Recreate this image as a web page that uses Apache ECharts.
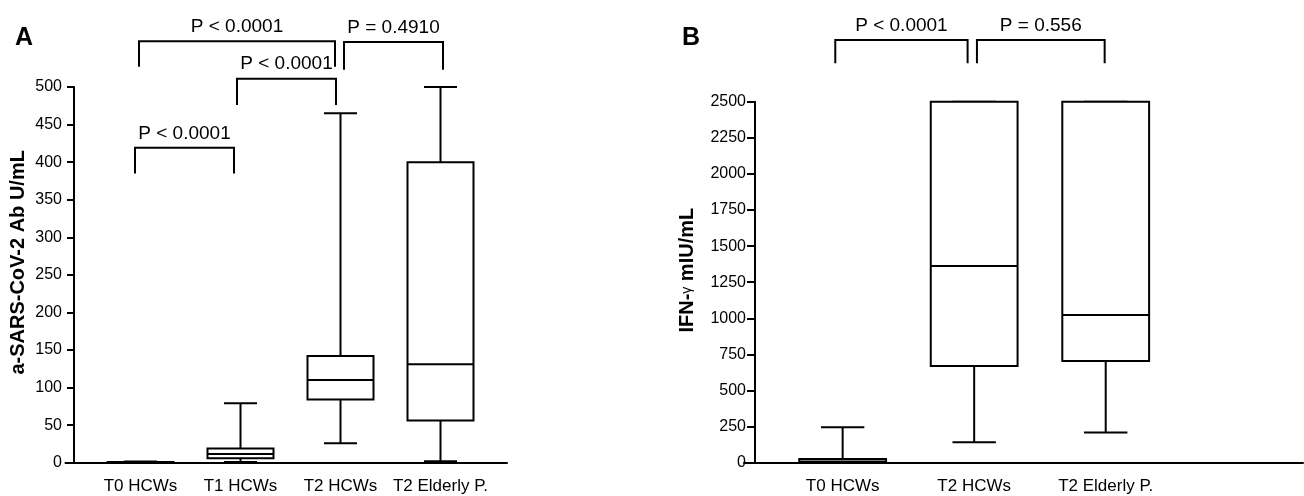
<!DOCTYPE html>
<html>
<head>
<meta charset="utf-8">
<script src="https://cdn.jsdelivr.net/npm/echarts@6/dist/echarts.min.js"></script>
<style>
  html, body { margin: 0; padding: 0; background: #fff; }
  #chart { width: 1304px; height: 496px; }
</style>
</head>
<body>
<div id="chart"></div>
<script>
// panel A: antibody titres
const catsA = ["T0 HCWs", "T1 HCWs", "T2 HCWs", "T2 Elderly P."];
const minA = [0, 1, 26, 2];
const q1A = [0, 6, 84, 56];
const medA = [0.5, 11.5, 110, 131];
const q3A = [1, 19, 142, 400];
const maxA = [1.5, 79, 465, 500];
const yTicksA = { min: 0, max: 500, step: 50 };

// panel B: IFN-gamma
const catsB = ["T0 HCWs", "T2 HCWs", "T2 Elderly P."];
const minB = [0, 141, 210];
const q1B = [0, 670, 704];
const medB = [8, 1362, 1023];
const q3B = [25, 2500, 2500];
const maxB = [245, 2500, 2500];
const yTicksB = { min: 0, max: 2500, step: 250 };

// significance brackets (category position, value level)
const brFromA = [-0.055, 0.965, -0.015, 2.035];
const brToA = [0.935, 1.955, 1.945, 3.025];
const brTopA = [419, 511, 561, 560];
const brLegA = [385, 476, 527, 523];
const brTextA = ["P < 0.0001", "P < 0.0001", "P < 0.0001", "P = 0.4910"];

const brFromB = [-0.056, 1.021];
const brToB = [0.95, 1.992];
const brTopB = [2927, 2927];
const brLegB = [2766, 2766];
const brTextB = ["P < 0.0001", "P = 0.556"];

const FONT = "'Liberation Sans', Arial, sans-serif";

function boxData(mins, q1s, meds, q3s, maxs) {
  return mins.map((m, i) => [i, m, q1s[i], meds[i], q3s[i], maxs[i]]);
}

function bracketData(from, to, top, leg, text) {
  return from.map((f, i) => [f, to[i], top[i], leg[i], text[i]]);
}

const ln = { stroke: "#000", lineWidth: 2 };

function renderBox(params, api) {
  const x = api.value(0);
  const pMin = api.coord([x, api.value(1)]);
  const pQ1 = api.coord([x, api.value(2)]);
  const pMed = api.coord([x, api.value(3)]);
  const pQ3 = api.coord([x, api.value(4)]);
  const pMax = api.coord([x, api.value(5)]);
  const cx = pMin[0];
  const bw = api.size([1, 0])[0] * 0.66;
  const cw = bw / 2;
  return {
    type: "group",
    children: [
      { type: "line", shape: { x1: cx, y1: pMin[1], x2: cx, y2: pQ1[1] }, style: ln },
      { type: "line", shape: { x1: cx, y1: pQ3[1], x2: cx, y2: pMax[1] }, style: ln },
      { type: "line", shape: { x1: cx - cw / 2, y1: pMin[1], x2: cx + cw / 2, y2: pMin[1] }, style: ln },
      { type: "line", shape: { x1: cx - cw / 2, y1: pMax[1], x2: cx + cw / 2, y2: pMax[1] }, style: ln },
      {
        type: "rect",
        shape: { x: cx - bw / 2, y: pQ3[1], width: bw, height: pQ1[1] - pQ3[1] },
        style: { fill: "#fff", stroke: "#000", lineWidth: 2 }
      },
      { type: "line", shape: { x1: cx - bw / 2, y1: pMed[1], x2: cx + bw / 2, y2: pMed[1] }, style: ln }
    ]
  };
}

function renderBracket(params, api) {
  const a = api.coord([api.value(0), api.value(2)]);
  const b = api.coord([api.value(1), api.value(2)]);
  const aLeg = api.coord([api.value(0), api.value(3)]);
  const bLeg = api.coord([api.value(1), api.value(3)]);
  return {
    type: "group",
    children: [
      {
        type: "polyline",
        shape: { points: [[aLeg[0], aLeg[1]], [a[0], a[1]], [b[0], b[1]], [bLeg[0], bLeg[1]]] },
        style: { stroke: "#000", lineWidth: 2, fill: null }
      },
      {
        type: "text",
        x: (a[0] + b[0]) / 2,
        y: a[1] - 5,
        style: {
          text: api.value(4),
          fill: "#000",
          font: "19px " + FONT,
          align: "center",
          verticalAlign: "bottom"
        }
      }
    ]
  };
}

function xAxisOf(gridIndex, cats, min, max) {
  return {
    type: "value",
    gridIndex: gridIndex,
    min: min,
    max: max,
    interval: 0.25,
    splitLine: { show: false },
    axisTick: { show: false },
    axisLine: { lineStyle: { color: "#000", width: 2 } },
    axisLabel: {
      color: "#000",
      fontSize: 17,
      fontFamily: FONT,
      margin: 15,
      showMinLabel: false,
      showMaxLabel: false,
      formatter: (v) => {
        const i = Math.round(v);
        return Math.abs(v - i) < 1e-6 && cats[i] ? cats[i] : "";
      }
    }
  };
}

function yAxisOf(gridIndex, ticks, name, gap, offset, tickLen, margin, extra) {
  return Object.assign({
    type: "value",
    gridIndex: gridIndex,
    min: ticks.min,
    max: ticks.max,
    interval: ticks.step,
    offset: offset,
    name: name,
    nameLocation: "middle",
    nameGap: gap,
    splitLine: { show: false },
    axisLine: { show: true, onZero: false, lineStyle: { color: "#000", width: 2 } },
    axisTick: { show: true, length: tickLen, lineStyle: { color: "#000", width: 2 } },
    axisLabel: { color: "#000", fontSize: 16, fontFamily: FONT, margin: margin, formatter: (v) => String(v) }
  }, extra);
}

const chart = echarts.init(document.getElementById("chart"));

chart.setOption({
  animation: false,
  backgroundColor: "#fff",
  title: [
    { text: "A", left: 15, top: 26, padding: 0, textStyle: { fontSize: 25, fontWeight: "bold", color: "#000", fontFamily: FONT } },
    { text: "B", left: 682, top: 26, padding: 0, textStyle: { fontSize: 25, fontWeight: "bold", color: "#000", fontFamily: FONT } }
  ],
  grid: [
    { left: 65.5, top: 87, width: 441.5, height: 375.7 },
    { left: 744, top: 101.7, right: 1, height: 361 }
  ],
  xAxis: [
    xAxisOf(0, catsA, -0.75, 3.665),
    xAxisOf(1, catsB, -0.75, 3.5)
  ],
  yAxis: [
    yAxisOf(0, yTicksA, "a-SARS-CoV-2 Ab U/mL", 46, -8.5, 7, 12, {
      nameTextStyle: { color: "#000", fontSize: 20, fontWeight: "bold", fontFamily: FONT, padding: [0, 0, 0, 25] }
    }),
    yAxisOf(1, yTicksB, "IFN-{g|γ} mIU/mL", 58, -11, 8, 9, {
      nameTextStyle: {
        color: "#000", fontSize: 20, fontWeight: "bold", fontFamily: FONT, padding: [0, 0, 0, 24],
        rich: { g: { fontSize: 14, fontWeight: "normal", fontFamily: FONT, color: "#000" } }
      }
    })
  ],
  series: [
    {
      type: "custom", name: "A boxes", xAxisIndex: 0, yAxisIndex: 0, clip: false,
      renderItem: renderBox, data: boxData(minA, q1A, medA, q3A, maxA)
    },
    {
      type: "custom", name: "B boxes", xAxisIndex: 1, yAxisIndex: 1, clip: false,
      renderItem: renderBox, data: boxData(minB, q1B, medB, q3B, maxB)
    },
    {
      type: "custom", name: "A brackets", xAxisIndex: 0, yAxisIndex: 0, clip: false,
      renderItem: renderBracket, data: bracketData(brFromA, brToA, brTopA, brLegA, brTextA)
    },
    {
      type: "custom", name: "B brackets", xAxisIndex: 1, yAxisIndex: 1, clip: false,
      renderItem: renderBracket, data: bracketData(brFromB, brToB, brTopB, brLegB, brTextB)
    }
  ]
});
</script>
</body>
</html>
